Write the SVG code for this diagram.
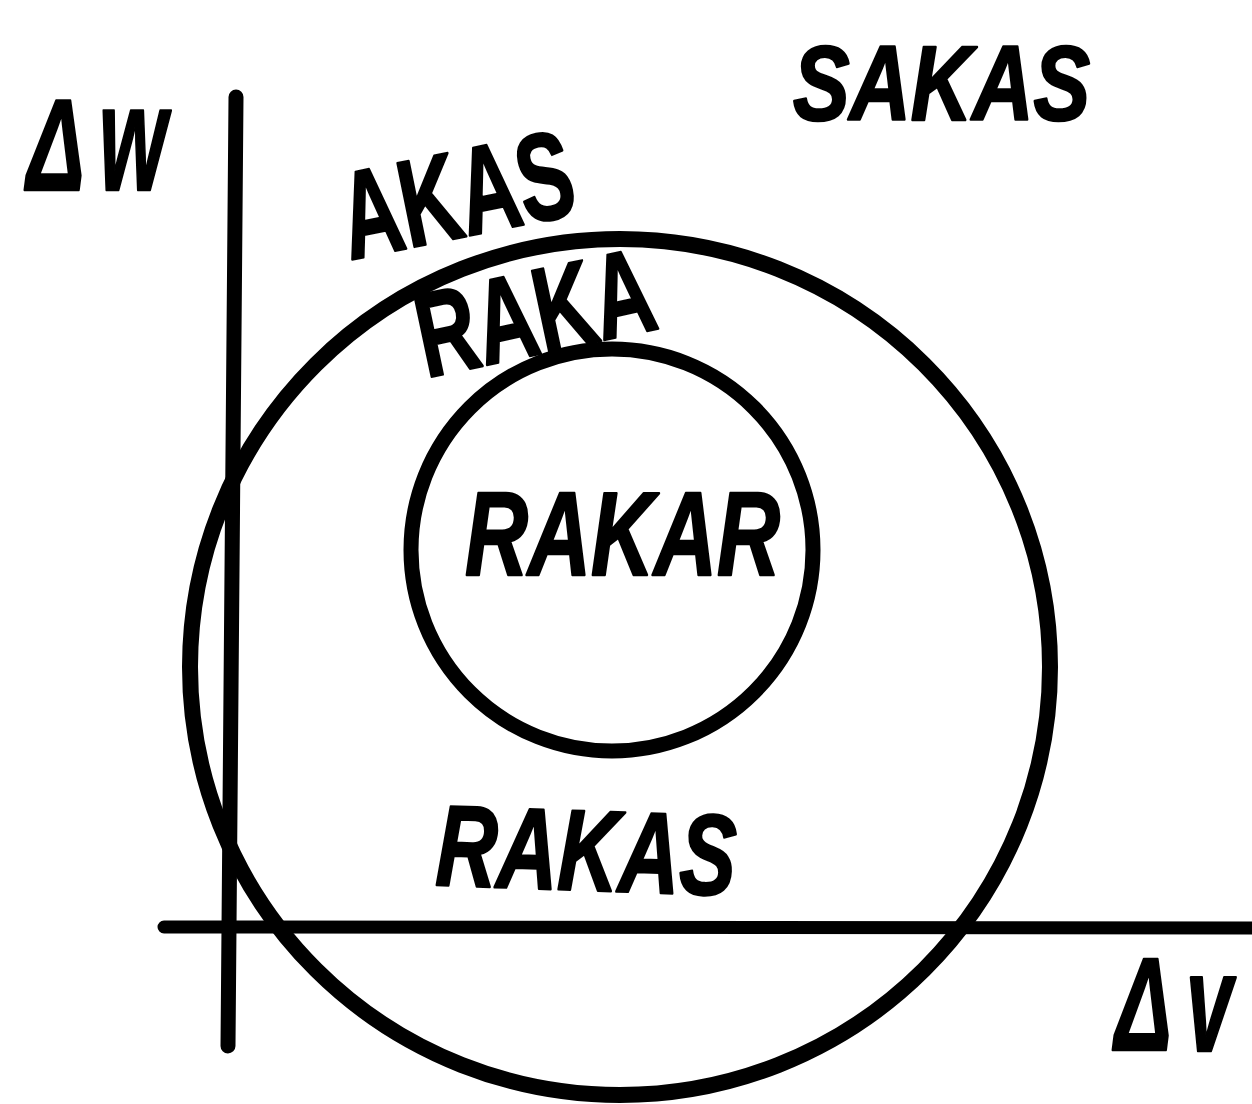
<svg xmlns="http://www.w3.org/2000/svg" width="1252" height="1104" viewBox="0 0 1252 1104">
<style>
.ln{fill:none;stroke:#000;stroke-linecap:round}
.t{font-family:"Liberation Sans",Arial,sans-serif;font-weight:bold;fill:#000;stroke:#000;stroke-width:2.5;stroke-linejoin:round}
.it{font-style:italic}
</style>
<rect width="1252" height="1104" fill="#fff"/>
<g id="axes">
<line class="ln" x1="236" y1="97" x2="228" y2="1046" stroke-width="15"/>
<line class="ln" x1="164" y1="927" x2="1252" y2="928" stroke-width="13"/>
</g>
<g id="outer-circle"><ellipse class="ln" cx="620" cy="667" rx="430" ry="428" stroke-width="16"/></g>
<g id="inner-circle"><circle class="ln" cx="612" cy="550" r="201" stroke-width="15"/></g>
<g id="labels">
<text class="t it" x="793" y="120" font-size="106" textLength="297" lengthAdjust="spacingAndGlyphs">SAKAS</text>
<g id="label-dw">
<text class="t it" font-size="130" transform="translate(27 190) scale(0.66 1)">Δ</text>
<text class="t it" font-size="150" transform="translate(99 190) scale(0.58 1)">w</text>
</g>
<text class="t" x="350" y="260" font-size="124" textLength="235" lengthAdjust="spacingAndGlyphs" transform="rotate(-11.5 350 260)">AKAS</text>
<text class="t" x="426" y="378" font-size="120" textLength="240" lengthAdjust="spacingAndGlyphs" transform="rotate(-12 426 378)">RAKA</text>
<text class="t it" x="465" y="575" font-size="118" textLength="315" lengthAdjust="spacingAndGlyphs">RAKAR</text>
<text class="t it" x="435" y="885" font-size="115" textLength="300" lengthAdjust="spacingAndGlyphs" transform="rotate(2 435 885)">RAKAS</text>
<g id="label-dv">
<text class="t it" font-size="132" transform="translate(1115 1050) scale(0.64 1)">Δ</text>
<text class="t it" font-size="139" transform="translate(1186 1051) scale(0.6 1)">v</text>
</g>
</g>
</svg>
